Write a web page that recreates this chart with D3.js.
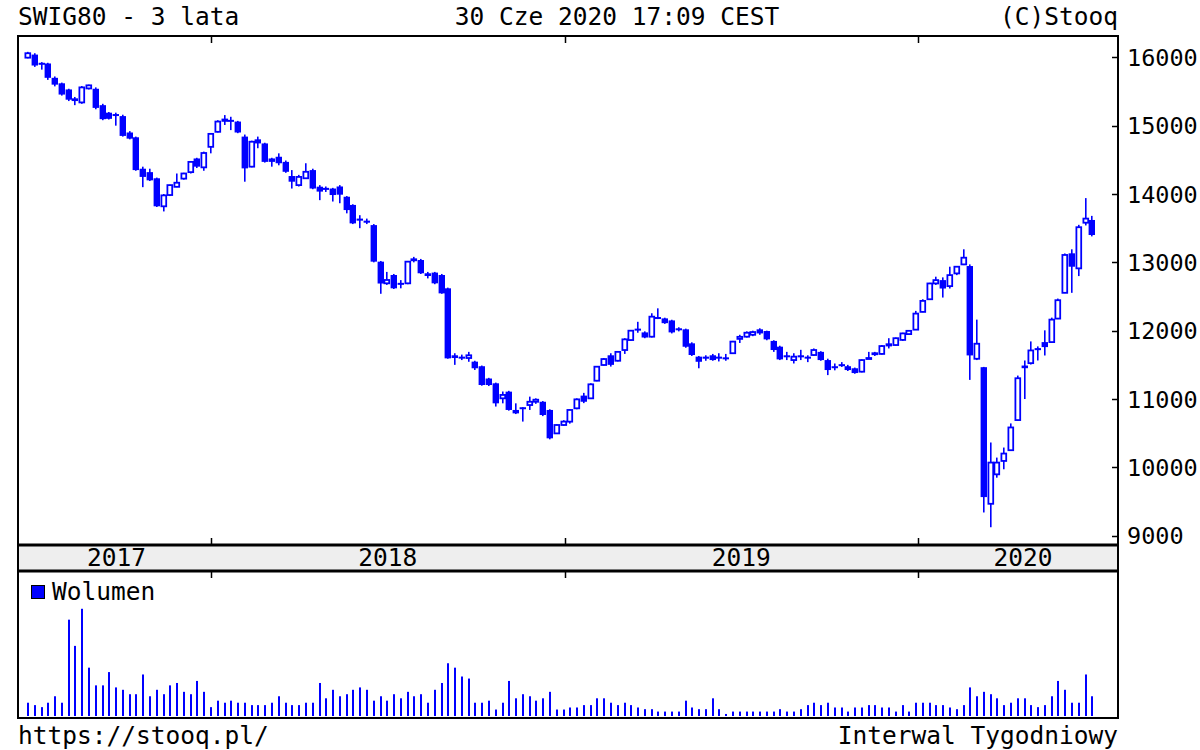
<!DOCTYPE html>
<html><head><meta charset="utf-8">
<script src="https://cdn.jsdelivr.net/npm/d3@7"></script>
<style>
body{margin:0;background:#fff}
svg{display:block}
text{font-family:"DejaVu Sans Mono",monospace;fill:#000}
</style>
</head><body>
<svg id="c" width="1200" height="750"></svg>
<script>
// ---------- DATA (weekly candles, SWIG80, 3 years) ----------
const firstWeekMonday = "2017-06-26";
const open = [15995,16040,15920,15910,15700,15620,15530,15400,15340,15545,
15540,15300,15190,15170,15140,14900,14830,14370,14320,14230,
13820,13985,14105,14225,14320,14520,14390,14690,14910,15070,
15085,15060,14840,14400,14800,14740,14520,14545,14470,14263,
14130,14230,14350,14107,14090,14080,14110,13960,13840,13640,
13610,13545,13010,12693,12815,12700,12693,13030,13034,12840,
12850,12815,12620,11640,11620,11600,11547,11480,11300,11230,
11010,11108,10840,10880,10912,10960,10960,10840,10497,10620,
10669,10864,11050,11010,11268,11498,11640,11560,11717,11863,
12030,11975,11912,12200,12180,12150,12035,12020,11815,11620,
11620,11640,11620,11610,11670,11880,11912,11940,12020,11995,
11850,11766,11640,11570,11640,11620,11644,11690,11570,11480,
11510,11480,11450,11400,11590,11660,11660,11815,11790,11865,
11950,12015,12275,12460,12691,12740,12652,12838,12970,12946,
11589,11466,9467,9898,10094,10251,10692,11490,11525,11745,
11833,11833,12177,12554,13132,12912,13580,13620];
const high = [16080,16060,15930,15920,15720,15630,15540,15420,15580,15600,
15560,15320,15200,15190,15160,14920,14840,14400,14370,14240,
14000,14135,14300,14310,14480,14530,14620,14890,15080,15155,
15130,15070,14870,14780,14840,14750,14530,14595,14490,14350,
14280,14450,14370,14130,14110,14090,14130,13970,13850,13690,
13640,13560,13020,12860,12830,12740,13020,13080,13050,12860,
12860,12830,12630,11670,11650,11690,11560,11490,11310,11240,
11110,11120,10937,10880,11035,11010,10970,10850,10630,10690,
10850,11010,11090,11230,11480,11600,11670,11700,11890,12010,
12130,11990,12255,12327,12190,12160,12050,12030,11830,11630,
11640,11660,11670,11660,11850,11940,11990,12000,12035,12000,
11860,11780,11690,11670,11720,11640,11740,11700,11590,11520,
11540,11500,11460,11580,11690,11690,11790,11890,11900,11970,
12010,12290,12460,12700,12790,12780,12936,12945,13191,12970,
12162,11470,10364,10143,10290,10643,11343,11564,11843,11770,
12005,12191,12470,13130,13191,13549,13940,13680];
const low = [15985,15860,15820,15670,15575,15440,15360,15300,15320,15530,
15240,15080,15090,15000,14840,14800,14340,14100,14190,13810,
13745,13970,14100,14210,14300,14380,14340,14595,14900,15010,
14935,14890,14180,14390,14670,14460,14400,14420,14310,14080,
14110,14220,14070,13910,14030,13890,13865,13717,13560,13500,
13560,13000,12540,12670,12610,12620,12680,13000,12830,12765,
12680,12540,11590,11500,11570,11545,11425,11195,11190,10890,
10937,10830,10780,10670,10840,10930,10750,10410,10490,10610,
10640,10850,10940,11000,11260,11490,11475,11550,11660,11850,
11970,11890,11900,12170,12100,11960,11990,11750,11630,11450,
11560,11560,11550,11560,11660,11820,11900,11920,11940,11860,
11690,11570,11570,11520,11570,11540,11630,11560,11350,11420,
11470,11410,11370,11390,11590,11630,11650,11740,11780,11850,
11940,12010,12270,12450,12670,12485,12617,12813,12960,11280,
11570,9340,9124,9849,9972,10240,10680,11000,11505,11564,
11637,11820,12170,12550,12554,12799,13540,13380];
const close = [16060,15880,15900,15700,15600,15455,15380,15360,15560,15590,
15260,15095,15100,15150,14850,14810,14350,14250,14200,13820,
13980,14130,14165,14300,14470,14400,14600,14880,15060,15090,
15060,14900,14375,14765,14740,14470,14470,14450,14325,14180,
14250,14325,14080,14035,14060,13985,13990,13765,13570,13610,
13580,13010,12690,12742,12620,12680,13010,13045,12840,12800,
12693,12546,11595,11600,11600,11640,11450,11205,11205,10937,
11060,10840,10790,10860,10960,10990,10766,10425,10620,10670,
10840,10995,10960,11215,11473,11585,11500,11690,11873,12000,
12010,11900,12205,12180,12110,11975,12010,11765,11644,11545,
11590,11570,11600,11590,11840,11910,11970,11980,11960,11873,
11717,11580,11620,11620,11610,11600,11717,11570,11424,11470,
11490,11424,11380,11570,11600,11670,11775,11770,11890,11960,
11998,12250,12436,12691,12740,12617,12813,12936,13068,11638,
11809,9565,10070,10070,10202,10584,11304,11451,11711,11715,
11760,12162,12446,13108,12936,13514,13640,13400];
const volume = [39,32,26,39,58,39,283,206,315,142,
90,90,129,84,77,64,64,122,58,77,
64,90,97,71,64,103,71,26,45,39,
45,39,39,32,32,32,39,58,39,32,
32,39,39,97,52,77,58,64,77,84,
77,45,58,45,64,52,71,58,64,39,
77,97,155,142,116,110,39,39,45,19,
39,103,52,64,58,45,52,71,19,19,
25,25,32,32,52,52,39,32,39,32,
25,20,20,13,13,13,13,45,25,20,
20,52,20,6,13,13,13,13,13,13,
13,20,13,13,20,32,39,32,39,25,
25,13,25,25,32,32,25,25,13,32,
13,39,39,39,32,32,25,20,32,84,
58,71,64,52,32,39,52,52,32,26,
32,58,103,77,39,39,122,58];
const priceTicks = [9000,10000,11000,12000,13000,14000,15000,16000];
const yearLabels = ["2017","2018","2019","2020"];
const titleLeft = "SWIG80 - 3 lata";
const titleCenter = "30 Cze 2020 17:09 CEST";
const titleRight = "(C)Stooq";
const footLeft = "https://stooq.pl/";
const footRight = "Interwal Tygodniowy";
const legendLabel = "Wolumen";

// ---------- LAYOUT ----------
const L = 18, R = 1118;
const pTop = 36, pBot = 545, bandBot = 571, vTop = 571, vBot = 718;
const blue = "#0000ff";
const svg = d3.select("#c");

const t0 = new Date(Date.UTC(2017,5,26));
const dates = open.map((_,i)=> d3.utcMonday.offset(t0, i));
const x = d3.scaleUtc()
  .domain([new Date(Date.UTC(2017,5,15,16)), new Date(Date.UTC(2020,6,25,12))])
  .range([L, R]);
const y = d3.scaleLinear().domain([8864, 16312]).range([pBot, pTop]);
const yv = d3.scaleLinear().domain([0, 426]).range([716, 571]);

// titles
svg.append("text").attr("x", L).attr("y", 25).attr("font-size", 24.5).text(titleLeft);
svg.append("text").attr("x", 617).attr("y", 25).attr("font-size", 24.5).attr("text-anchor","middle").text(titleCenter);
svg.append("text").attr("x", R).attr("y", 25).attr("font-size", 24.5).attr("text-anchor","end").text(titleRight);
svg.append("text").attr("x", L).attr("y", 744).attr("font-size", 24.5).text(footLeft);
svg.append("text").attr("x", R).attr("y", 744).attr("font-size", 24.5).attr("text-anchor","end").text(footRight);

// year band
svg.append("rect").attr("x", L).attr("y", pBot).attr("width", R-L).attr("height", bandBot-pBot).attr("fill","#eeeeee");
const years = x.ticks(d3.utcYear.every(1)).filter(d=> x(d) > L+5 && x(d) < R-5);
const bounds = [L+4, ...years.map(d=>x(d)), R+10];
yearLabels.forEach((lab,i)=>{
  let cx = (bounds[i]+bounds[i+1])/2;
  svg.append("text").attr("x", cx).attr("y", 566).attr("font-size", 24.5).attr("text-anchor","middle").text(lab);
});

// price axis ticks + labels (right)
const yAxis = d3.axisRight(y).tickValues(priceTicks).tickSize(0).tickPadding(0).tickFormat(d3.format("d"));
const ga = svg.append("g").attr("transform", `translate(${R+9},0)`).call(yAxis);
ga.select(".domain").remove();
ga.selectAll("text").attr("font-size", 23.5).attr("font-family", '"DejaVu Sans Mono",monospace').attr("fill","#000").attr("dy","0.35em");
priceTicks.forEach(v=>{
  svg.append("line").attr("x1", R-6).attr("x2", R).attr("y1", Math.round(y(v))+0.5).attr("y2", Math.round(y(v))+0.5).attr("stroke","#000").attr("stroke-width",1.5);
});

// year boundary ticks
years.forEach(d=>{
  const xx = Math.round(x(d))+0.5;
  svg.append("line").attr("x1",xx).attr("x2",xx).attr("y1",pTop).attr("y2",pTop+7).attr("stroke","#000").attr("stroke-width",1.5);
  svg.append("line").attr("x1",xx).attr("x2",xx).attr("y1",pBot-7).attr("y2",pBot).attr("stroke","#000").attr("stroke-width",1.5);
  svg.append("line").attr("x1",xx).attr("x2",xx).attr("y1",vTop).attr("y2",vTop+7).attr("stroke","#000").attr("stroke-width",1.5);
});

// candles
const gc = svg.append("g");
open.forEach((o,i)=>{
  const c = close[i], h = high[i], l = low[i];
  const cx = Math.round(x(dates[i])) - 1;
  gc.append("rect").attr("x", cx).attr("width", 1.6)
    .attr("y", y(h)).attr("height", Math.max(1, y(l)-y(h))).attr("fill", blue);
  const top = y(Math.max(o,c)), bot = y(Math.min(o,c));
  if (c >= o) {
    gc.append("rect").attr("x", cx-1.6).attr("width", 4.8).attr("y", top)
      .attr("height", Math.max(1, bot-top)).attr("fill","#fff").attr("stroke", blue).attr("stroke-width", 1.8);
  } else {
    gc.append("rect").attr("x", cx-2.4).attr("width", 6.4).attr("y", top)
      .attr("height", Math.max(2, bot-top)).attr("fill", blue);
  }
});

// volume bars
const gv = svg.append("g");
volume.forEach((v,i)=>{
  const cx = Math.round(x(dates[i])) - 1;
  gv.append("rect").attr("x", cx).attr("width", 2).attr("y", yv(v)).attr("height", yv(0)-yv(v)).attr("fill", blue);
});

// legend
svg.append("rect").attr("x", 31.5).attr("y", 585.5).attr("width", 13).attr("height", 13).attr("fill", blue).attr("stroke","#000").attr("stroke-width",1);
svg.append("text").attr("x", 52).attr("y", 600).attr("font-size", 24.5).text(legendLabel);

// frames
const fr = (x0,y0,x1,y1)=> svg.append("rect").attr("x",x0).attr("y",y0).attr("width",x1-x0).attr("height",y1-y0).attr("fill","none").attr("stroke","#000").attr("stroke-width",2);
fr(L, pTop, R, pBot);
fr(L, pBot, R, bandBot);
fr(L, vTop, R, vBot);
svg.append("line").attr("x1",L).attr("x2",R).attr("y1",pBot).attr("y2",pBot).attr("stroke","#000").attr("stroke-width",3);
svg.append("line").attr("x1",L).attr("x2",R).attr("y1",bandBot).attr("y2",bandBot).attr("stroke","#000").attr("stroke-width",3);
</script>
</body></html>
